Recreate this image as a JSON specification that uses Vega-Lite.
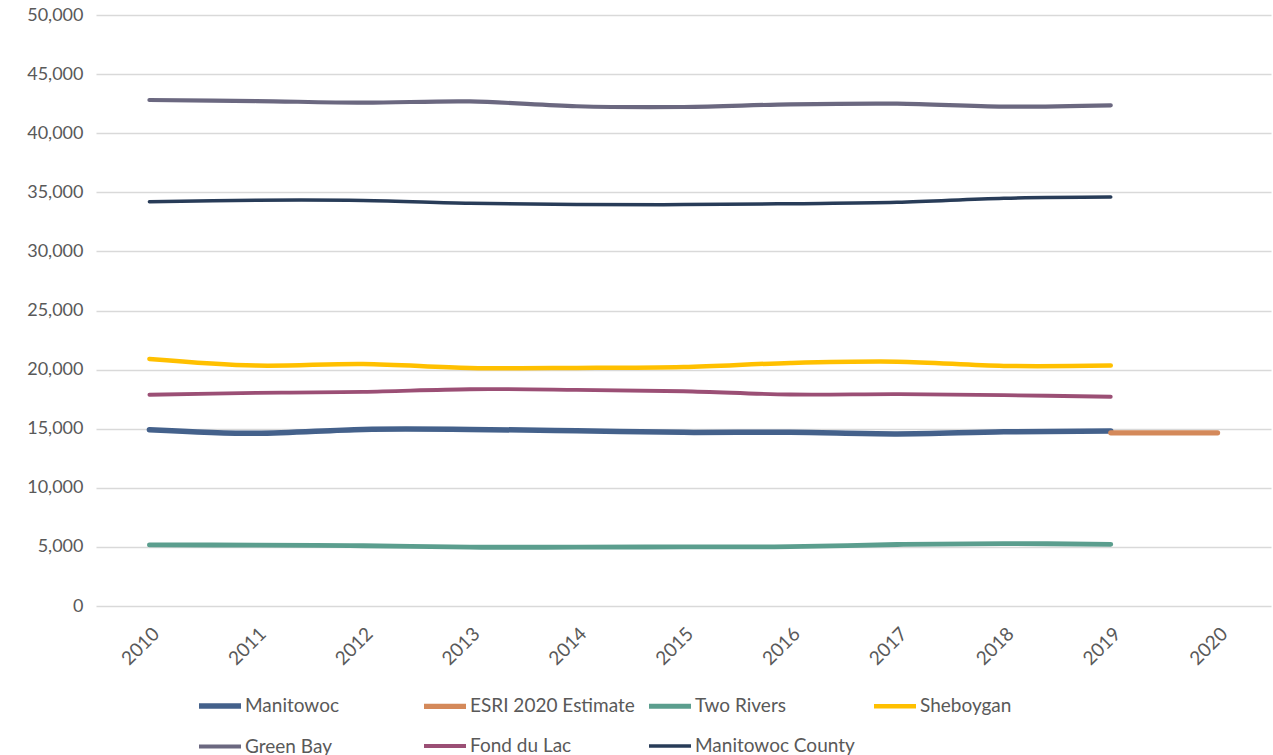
{
  "$schema": "https://vega.github.io/schema/vega-lite/v6.json",
  "autosize": {"type": "none"},
  "width": 1175,
  "height": 591,
  "padding": {"left": 96, "top": 15, "right": 2, "bottom": 149},
  "background": "white",
  "config": {
    "font": "Lato",
    "view": {"stroke": null},
    "axis": {"labelFont": "Lato", "labelFontSize": 18, "labelColor": "#595959", "titleFont": "Lato"},
    "legend": {"labelFont": "Lato"}
  },
  "data": {
    "values": [
      {"year": "2010", "series": "Manitowoc", "value": 14920},
      {"year": "2011", "series": "Manitowoc", "value": 14610},
      {"year": "2012", "series": "Manitowoc", "value": 14940},
      {"year": "2013", "series": "Manitowoc", "value": 14940},
      {"year": "2014", "series": "Manitowoc", "value": 14830},
      {"year": "2015", "series": "Manitowoc", "value": 14690},
      {"year": "2016", "series": "Manitowoc", "value": 14690},
      {"year": "2017", "series": "Manitowoc", "value": 14560},
      {"year": "2018", "series": "Manitowoc", "value": 14740},
      {"year": "2019", "series": "Manitowoc", "value": 14800},
      {"year": "2019", "series": "ESRI 2020 Estimate", "value": 14650},
      {"year": "2020", "series": "ESRI 2020 Estimate", "value": 14650},
      {"year": "2010", "series": "Two Rivers", "value": 5165},
      {"year": "2011", "series": "Two Rivers", "value": 5150},
      {"year": "2012", "series": "Two Rivers", "value": 5100},
      {"year": "2013", "series": "Two Rivers", "value": 4975},
      {"year": "2014", "series": "Two Rivers", "value": 4975},
      {"year": "2015", "series": "Two Rivers", "value": 5000},
      {"year": "2016", "series": "Two Rivers", "value": 5020},
      {"year": "2017", "series": "Two Rivers", "value": 5200},
      {"year": "2018", "series": "Two Rivers", "value": 5280},
      {"year": "2019", "series": "Two Rivers", "value": 5220},
      {"year": "2010", "series": "Sheboygan", "value": 20900},
      {"year": "2011", "series": "Sheboygan", "value": 20340},
      {"year": "2012", "series": "Sheboygan", "value": 20480},
      {"year": "2013", "series": "Sheboygan", "value": 20140},
      {"year": "2014", "series": "Sheboygan", "value": 20140},
      {"year": "2015", "series": "Sheboygan", "value": 20220},
      {"year": "2016", "series": "Sheboygan", "value": 20560},
      {"year": "2017", "series": "Sheboygan", "value": 20670},
      {"year": "2018", "series": "Sheboygan", "value": 20310},
      {"year": "2019", "series": "Sheboygan", "value": 20340},
      {"year": "2010", "series": "Green Bay", "value": 42810},
      {"year": "2011", "series": "Green Bay", "value": 42720},
      {"year": "2012", "series": "Green Bay", "value": 42580},
      {"year": "2013", "series": "Green Bay", "value": 42690},
      {"year": "2014", "series": "Green Bay", "value": 42280},
      {"year": "2015", "series": "Green Bay", "value": 42220},
      {"year": "2016", "series": "Green Bay", "value": 42440},
      {"year": "2017", "series": "Green Bay", "value": 42500},
      {"year": "2018", "series": "Green Bay", "value": 42250},
      {"year": "2019", "series": "Green Bay", "value": 42360},
      {"year": "2010", "series": "Fond du Lac", "value": 17870},
      {"year": "2011", "series": "Fond du Lac", "value": 18030},
      {"year": "2012", "series": "Fond du Lac", "value": 18120},
      {"year": "2013", "series": "Fond du Lac", "value": 18340},
      {"year": "2014", "series": "Fond du Lac", "value": 18290},
      {"year": "2015", "series": "Fond du Lac", "value": 18170},
      {"year": "2016", "series": "Fond du Lac", "value": 17890},
      {"year": "2017", "series": "Fond du Lac", "value": 17920},
      {"year": "2018", "series": "Fond du Lac", "value": 17840},
      {"year": "2019", "series": "Fond du Lac", "value": 17700},
      {"year": "2010", "series": "Manitowoc County", "value": 34200},
      {"year": "2011", "series": "Manitowoc County", "value": 34330},
      {"year": "2012", "series": "Manitowoc County", "value": 34310},
      {"year": "2013", "series": "Manitowoc County", "value": 34080},
      {"year": "2014", "series": "Manitowoc County", "value": 33960},
      {"year": "2015", "series": "Manitowoc County", "value": 33960},
      {"year": "2016", "series": "Manitowoc County", "value": 34040},
      {"year": "2017", "series": "Manitowoc County", "value": 34150},
      {"year": "2018", "series": "Manitowoc County", "value": 34500},
      {"year": "2019", "series": "Manitowoc County", "value": 34600}
    ]
  },
  "mark": {"type": "line", "interpolate": "catmull-rom", "strokeCap": "round", "strokeJoin": "round"},
  "encoding": {
    "x": {
      "field": "year",
      "type": "ordinal",
      "scale": {"type": "point", "padding": 0.5, "domain": ["2010","2011","2012","2013","2014","2015","2016","2017","2018","2019","2020"]},
      "axis": {
        "title": null,
        "labelAngle": -45,
        "labelFontSize": 19,
        "labelPadding": 18,
        "ticks": false,
        "domain": false,
        "grid": false
      }
    },
    "y": {
      "field": "value",
      "type": "quantitative",
      "scale": {"domain": [0, 50000], "nice": false},
      "axis": {
        "title": null,
        "values": [0, 5000, 10000, 15000, 20000, 25000, 30000, 35000, 40000, 45000, 50000],
        "format": ",d",
        "ticks": false,
        "domain": false,
        "grid": true,
        "gridColor": "#d9d9d9",
        "gridWidth": 1.3,
        "labelPadding": 13
      }
    },
    "color": {
      "field": "series",
      "type": "nominal",
      "scale": {
        "domain": ["Manitowoc", "ESRI 2020 Estimate", "Two Rivers", "Sheboygan", "Green Bay", "Fond du Lac", "Manitowoc County"],
        "range": ["#44618B", "#D4895A", "#5B9E8E", "#FFC000", "#6B6880", "#9B4F75", "#283C58"]
      },
      "legend": {
        "title": null,
        "orient": "none",
        "legendX": 100,
        "legendY": 667,
        "direction": "horizontal",
        "columns": 4,
        "gridAlign": "all",
        "columnPadding": 3,
        "rowPadding": 6,
        "symbolType": "stroke",
        "symbolSize": 1764,
        "symbolStrokeWidth": 5,
        "labelFontSize": 19,
        "labelColor": "#595959",
        "labelOffset": 1,
        "labelLimit": 300,
        "padding": 0
      }
    },
    "strokeWidth": {
      "field": "series",
      "type": "nominal",
      "scale": {
        "domain": ["Manitowoc", "ESRI 2020 Estimate", "Two Rivers", "Sheboygan", "Green Bay", "Fond du Lac", "Manitowoc County"],
        "range": [5.5, 3.5, 4, 4, 4, 4, 4]
      },
      "legend": null
    }
  }
}
